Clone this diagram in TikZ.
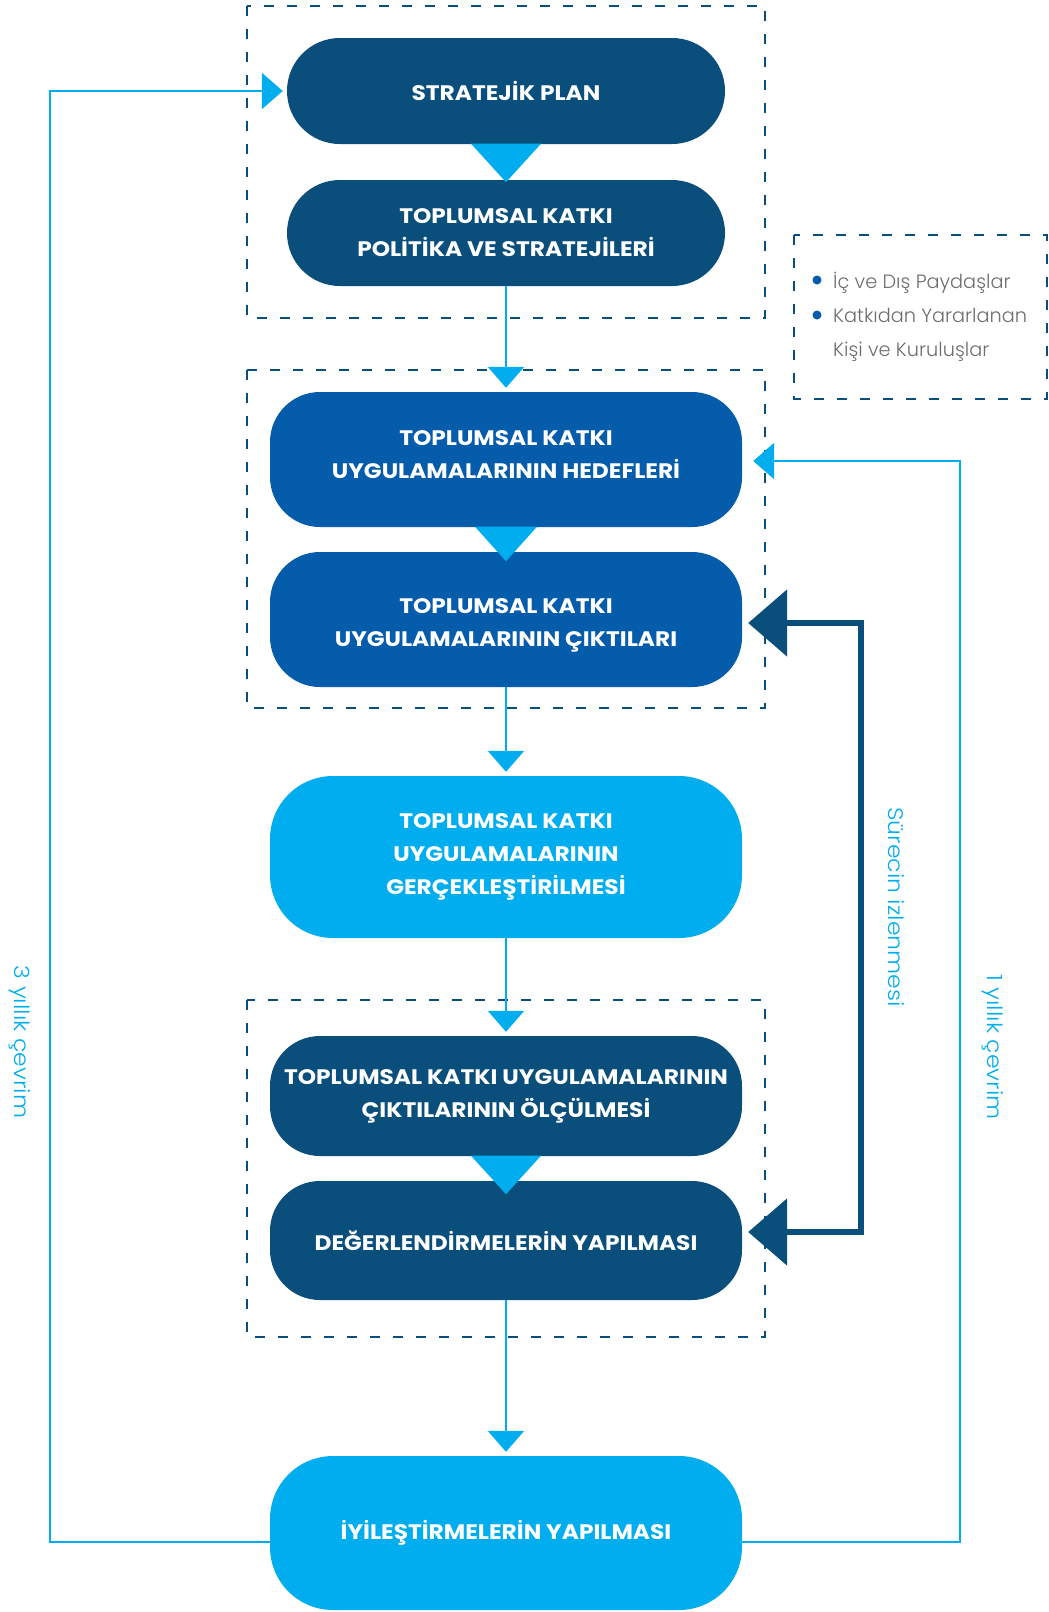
\documentclass[tikz,border=0pt]{standalone}
\usepackage{fontspec}
\setmainfont{Poppins}
\newfontfamily\boxfont{Poppins Bold}[FakeStretch=1.11]
\newfontfamily\thinfont{Poppins Light}
\newfontfamily\widethinfont{Poppins Light}[FakeStretch=1.12]
\usetikzlibrary{arrows.meta,calc}
\definecolor{navy}{HTML}{0A4F7C}
\definecolor{midblue}{HTML}{045CAB}
\definecolor{skyblue}{HTML}{00AEEF}
\definecolor{legendgray}{HTML}{6D6E71}
\begin{document}
\begin{tikzpicture}[x=1pt,y=-1pt,
  box/.style={rectangle, text=white, align=center, inner sep=0pt,
    font=\boxfont\fontsize{21}{33}\selectfont},
  widebox/.style={box, minimum width=472pt},
  dashbox/.style={draw=navy, line width=1.8pt, dash pattern=on 10pt off 13pt},
  flow/.style={draw=skyblue, line width=2.5pt,
    -{Triangle[width=36pt,length=21pt]}, shorten >=4pt},
  darkflow/.style={draw=navy, line width=6pt,
    {Triangle[width=66pt,length=39pt]}-{Triangle[width=66pt,length=39pt]},
    shorten <=6pt, shorten >=6pt},
  sidelabel/.style={rotate=-90, text=skyblue, inner sep=0pt,
    font=\widethinfont\fontsize{21}{24}\selectfont},
  legendtext/.style={text=legendgray, inner sep=0pt, anchor=base west,
    font=\thinfont\fontsize{19.3}{22}\selectfont},
  bulletdot/.style={fill=midblue}]

\fill[white] (0,0) rectangle (1049,1612);
\useasboundingbox (0,0) rectangle (1049,1612);

% grouping frames
\draw[dashbox] (247,6) rectangle (765,318);
\draw[dashbox] (247,370) rectangle (765,708);
\draw[dashbox] (247,1000) rectangle (765,1337);
\draw[dashbox] (794,235) rectangle (1047,399);

% process steps
\node[box, fill=navy, minimum width=438pt, minimum height=106pt,
  rounded corners=52.9pt] (sp) at (506,91) {STRATEJİK PLAN};
\node[box, fill=navy, minimum width=438pt, minimum height=106pt,
  rounded corners=52.9pt] (pol) at (506,233)
  {TOPLUMSAL KATKI\\POLİTİKA VE STRATEJİLERİ};
\node[widebox, fill=midblue, minimum height=135pt, rounded corners=50pt,
  text depth=10pt]
  (hed) at (506,459.5) {TOPLUMSAL KATKI\\UYGULAMALARININ HEDEFLERİ};
\node[widebox, fill=midblue, minimum height=135pt, rounded corners=50pt,
  text height=58pt, text depth=5pt]
  (cik) at (506,619.5) {TOPLUMSAL KATKI\\UYGULAMALARININ ÇIKTILARI};
\node[widebox, fill=skyblue, minimum height=162pt, rounded corners=63pt]
  (ger) at (506,857) {TOPLUMSAL KATKI\\UYGULAMALARININ\\GERÇEKLEŞTİRİLMESİ};
\node[widebox, fill=navy, minimum height=120pt, rounded corners=50pt]
  (olc) at (506,1096) {TOPLUMSAL KATKI UYGULAMALARININ\\ÇIKTILARININ ÖLÇÜLMESİ};
\node[widebox, fill=navy, minimum height=119pt, rounded corners=50pt]
  (deg) at (506,1240.5) {DEĞERLENDİRMELERİN YAPILMASI};
\node[widebox, fill=skyblue, minimum height=154pt, rounded corners=63pt]
  (iyi) at (506,1533) {İYİLEŞTİRMELERİN YAPILMASI};

% wedge links between stacked steps
\fill[skyblue] ($(sp.south)+(-35,-0.5)$) -- ($(sp.south)+(35,-0.5)$)
  -- ($(sp.south)+(0,38)$) -- cycle;
\fill[skyblue] ($(hed.south)+(-31,-0.5)$) -- ($(hed.south)+(31,-0.5)$)
  -- ($(hed.south)+(0,34)$) -- cycle;
\fill[skyblue] ($(olc.south)+(-35,-0.5)$) -- ($(olc.south)+(35,-0.5)$)
  -- ($(olc.south)+(0,38)$) -- cycle;

% main flow
\draw[flow] (pol.south) -- (hed.north);
\draw[flow] (cik.south) -- (ger.north);
\draw[flow] (ger.south) -- (olc.north);
\draw[flow] (deg.south) -- (iyi.north);

% three-year loop
\coordinate (la) at (50,1542);
\coordinate (lb) at (50,91);
\draw[flow] (iyi.west |- la) -- (la) -- (lb) -- (sp.west);

% one-year loop
\coordinate (ra) at (960,1542);
\coordinate (rb) at (960,461);
\draw[flow, shorten >=11pt] (iyi.east |- ra) -- (ra) -- (rb) -- (hed.east |- rb);

% monitoring bracket
\coordinate (ma) at (861,623);
\coordinate (mb) at (861,1232);
\draw[darkflow] (cik.east |- ma) -- (ma) -- (mb) -- (deg.east |- mb);

% side labels
\node[sidelabel] (lblmon) at (896,907) {Sürecin izlenmesi};
\node[sidelabel] (lblone) at (993,1047) {1 yıllık çevrim};
\node[sidelabel] (lblthree) at (20,1042) {3 yıllık çevrim};

% stakeholders legend
\fill[bulletdot] (817,280) circle (4.5pt);
\fill[bulletdot] (817,315) circle (4.5pt);
\node[legendtext] (lg1) at (833,288) {İç ve Dış Paydaşlar};
\node[legendtext] (lg2) at (833,322) {Katkıdan Yararlanan};
\node[legendtext] (lg3) at (833,356) {Kişi ve Kuruluşlar};

\end{tikzpicture}
\end{document}
